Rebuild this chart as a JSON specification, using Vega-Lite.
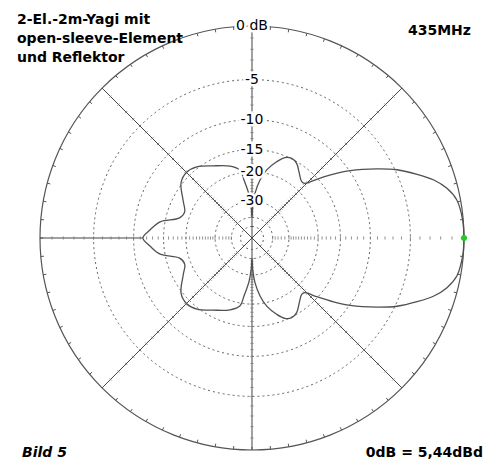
{
  "$schema": "https://vega.github.io/schema/vega-lite/v6.json",
  "width": 491,
  "height": 461,
  "autosize": {"type": "none"},
  "padding": 0,
  "background": "white",
  "config": {"view": {"stroke": null}},
  "datasets": {
    "rings": [{"db": -5}, {"db": -10}, {"db": -15}, {"db": -20}, {"db": -30}, {"db": -40}, {"db": -50}],
    "pattern": [
      {"a": 0, "db": 0}, {"a": 5, "db": -0.05}, {"a": 10.5, "db": -0.3}, {"a": 14.3, "db": -0.9}, {"a": 17.7, "db": -1.8},
      {"a": 21.1, "db": -3.1}, {"a": 25.2, "db": -4.8}, {"a": 29, "db": -6.8}, {"a": 34.5, "db": -9.9}, {"a": 38.1, "db": -12.3},
      {"a": 42.2, "db": -15.2}, {"a": 45.9, "db": -17.6}, {"a": 48.6, "db": -17.8}, {"a": 53.8, "db": -16.7}, {"a": 59.1, "db": -15.3},
      {"a": 63.5, "db": -14.9}, {"a": 67.7, "db": -15.3}, {"a": 72.1, "db": -16.7}, {"a": 77.8, "db": -19.1}, {"a": 82.1, "db": -22.1},
      {"a": 86.2, "db": -26.7}, {"a": 88.5, "db": -32}, {"a": 90, "db": -40}, {"a": 91.5, "db": -33}, {"a": 94, "db": -27},
      {"a": 97.9, "db": -22}, {"a": 100, "db": -19.3}, {"a": 107, "db": -17.8}, {"a": 118.4, "db": -16.3}, {"a": 127.8, "db": -14.7},
      {"a": 134.6, "db": -14.2}, {"a": 142, "db": -14.7}, {"a": 152, "db": -17.2}, {"a": 158.8, "db": -18.5}, {"a": 164.5, "db": -17.8},
      {"a": 170, "db": -14.1}, {"a": 175.5, "db": -12.5}, {"a": 180, "db": -11.4},
      {"a": 184.5, "db": -12.5}, {"a": 190, "db": -14.1}, {"a": 195.5, "db": -17.8}, {"a": 201.2, "db": -18.5}, {"a": 208, "db": -17.2},
      {"a": 218, "db": -14.7}, {"a": 225.4, "db": -14.2}, {"a": 232.2, "db": -14.7}, {"a": 241.6, "db": -16.3}, {"a": 253, "db": -17.8},
      {"a": 260, "db": -19.3}, {"a": 262.1, "db": -22}, {"a": 266, "db": -27}, {"a": 268.5, "db": -33}, {"a": 270, "db": -40},
      {"a": 271.5, "db": -32}, {"a": 273.8, "db": -26.7}, {"a": 277.9, "db": -22.1}, {"a": 282.2, "db": -19.1}, {"a": 287.9, "db": -16.7},
      {"a": 292.3, "db": -15.3}, {"a": 296.5, "db": -14.9}, {"a": 300.9, "db": -15.3}, {"a": 306.2, "db": -16.7}, {"a": 311.4, "db": -17.8},
      {"a": 314.1, "db": -17.6}, {"a": 317.8, "db": -15.2}, {"a": 321.9, "db": -12.3}, {"a": 325.5, "db": -9.9}, {"a": 331, "db": -6.8},
      {"a": 334.8, "db": -4.8}, {"a": 338.9, "db": -3.1}, {"a": 342.3, "db": -1.8}, {"a": 345.7, "db": -0.9}, {"a": 349.5, "db": -0.3},
      {"a": 355, "db": -0.05}, {"a": 360, "db": 0}
    ],
    "spokeTicks": [
      {"a": 0, "db": [-1,-2,-3,-4,-5,-6,-7,-8,-9,-10,-11,-12,-13,-14,-15,-16,-17,-18,-19,-20,-21,-22,-23,-24,-25,-26,-27,-28,-29,-30,-32,-34,-36,-38,-40]},
      {"a": 45, "db": [-1,-2,-3,-4,-5,-6,-7,-8,-9,-10,-11,-12,-13,-14,-15,-16,-17,-18,-19,-20,-21,-22,-23,-24,-25,-26,-27,-28,-29,-30,-32,-34,-36,-38,-40]},
      {"a": 90, "db": [-1,-2,-3,-4,-5,-6,-7,-8,-9,-10,-11,-12,-13,-14,-15,-16,-17,-18,-19,-20,-21,-22,-23,-24,-25,-26,-27,-28,-29,-30,-32,-34,-36,-38,-40]},
      {"a": 135, "db": [-1,-2,-3,-4,-5,-6,-7,-8,-9,-10,-11,-12,-13,-14,-15,-16,-17,-18,-19,-20,-21,-22,-23,-24,-25,-26,-27,-28,-29,-30,-32,-34,-36,-38,-40]},
      {"a": 180, "db": [-1,-2,-3,-4,-5,-6,-7,-8,-9,-10,-11,-12,-13,-14,-15,-16,-17,-18,-19,-20,-21,-22,-23,-24,-25,-26,-27,-28,-29,-30,-32,-34,-36,-38,-40]},
      {"a": 225, "db": [-1,-2,-3,-4,-5,-6,-7,-8,-9,-10,-11,-12,-13,-14,-15,-16,-17,-18,-19,-20,-21,-22,-23,-24,-25,-26,-27,-28,-29,-30,-32,-34,-36,-38,-40]},
      {"a": 270, "db": [-1,-2,-3,-4,-5,-6,-7,-8,-9,-10,-11,-12,-13,-14,-15,-16,-17,-18,-19,-20,-21,-22,-23,-24,-25,-26,-27,-28,-29,-30,-32,-34,-36,-38,-40]},
      {"a": 315, "db": [-1,-2,-3,-4,-5,-6,-7,-8,-9,-10,-11,-12,-13,-14,-15,-16,-17,-18,-19,-20,-21,-22,-23,-24,-25,-26,-27,-28,-29,-30,-32,-34,-36,-38,-40]}
    ],
    "outerTicks": [
      {"a": [0,5,10,15,20,25,30,35,40,45,50,55,60,65,70,75,80,85,90,95,100,105,110,115,120,125,130,135,140,145,150,155,160,165,170,175,180,185,190,195,200,205,210,215,220,225,230,235,240,245,250,255,260,265,270,275,280,285,290,295,300,305,310,315,320,325,330,335,340,345,350,355]}
    ],
    "ringLabels": [
      {"db": 0, "t": "0 dB"}, {"db": -5, "t": "-5"}, {"db": -10, "t": "-10"}, {"db": -15, "t": "-15"}, {"db": -20, "t": "-20"}, {"db": -30, "t": "-30"}
    ],
    "notes": [
      {"t": "2-El.-2m-Yagi mit", "corner": "tl1"},
      {"t": "open-sleeve-Element", "corner": "tl2"},
      {"t": "und Reflektor", "corner": "tl3"},
      {"t": "435MHz", "corner": "tr"},
      {"t": "Bild 5", "corner": "bl"},
      {"t": "0dB = 5,44dBd", "corner": "br"}
    ]
  },
  "encoding": {
    "x": {"field": "px", "type": "quantitative", "scale": {"domain": [-1.18868, 1.12736], "nice": false, "zero": false}, "axis": null},
    "y": {"field": "py", "type": "quantitative", "scale": {"domain": [-1.05189, 1.12264], "nice": false, "zero": false}, "axis": null}
  },
  "layer": [
    {
      "data": {"name": "rings"},
      "transform": [
        {"calculate": "pow(0.89, -datum.db / 2)", "as": "r"},
        {"calculate": "0", "as": "px"},
        {"calculate": "0", "as": "py"}
      ],
      "mark": {"type": "arc", "theta": 0, "theta2": 6.2832, "filled": false, "fill": null, "stroke": "#606060", "strokeWidth": 1, "strokeDash": [2, 3]},
      "encoding": {
        "radius": {"field": "r", "type": "quantitative", "stack": null, "scale": {"type": "linear", "domain": [0, 1], "range": [0, 212], "zero": true}, "legend": null}
      }
    },
    {
      "data": {"values": [{"db": 0}]},
      "transform": [
        {"calculate": "pow(0.89, -datum.db / 2)", "as": "r"},
        {"calculate": "0", "as": "px"},
        {"calculate": "0", "as": "py"}
      ],
      "mark": {"type": "arc", "theta": 0, "theta2": 6.2832, "filled": false, "fill": null, "stroke": "#555555", "strokeWidth": 1.2},
      "encoding": {
        "radius": {"field": "r", "type": "quantitative", "stack": null, "scale": {"type": "linear", "domain": [0, 1], "range": [0, 212], "zero": true}, "legend": null}
      }
    },
    {
      "data": {"values": [{"a": 45}, {"a": 90}, {"a": 135}]},
      "transform": [
        {"calculate": "cos(datum.a * PI / 180)", "as": "px"},
        {"calculate": "sin(datum.a * PI / 180)", "as": "py"},
        {"calculate": "-datum.px", "as": "px2"},
        {"calculate": "-datum.py", "as": "py2"}
      ],
      "mark": {"type": "rule", "stroke": "#444444", "strokeWidth": 1},
      "encoding": {"x2": {"field": "px2"}, "y2": {"field": "py2"}}
    },
    {
      "data": {"values": [{"a": 180, "dbFrom": 0, "dbTo": -11.4}]},
      "transform": [
        {"calculate": "pow(0.89, -datum.dbFrom / 2) * cos(datum.a * PI / 180)", "as": "px"},
        {"calculate": "0", "as": "py"},
        {"calculate": "pow(0.89, -datum.dbTo / 2) * cos(datum.a * PI / 180)", "as": "px2"},
        {"calculate": "0", "as": "py2"}
      ],
      "mark": {"type": "rule", "stroke": "#444444", "strokeWidth": 1},
      "encoding": {"x2": {"field": "px2"}, "y2": {"field": "py2"}}
    },
    {
      "data": {"name": "spokeTicks"},
      "transform": [
        {"flatten": ["db"]},
        {"calculate": "pow(0.89, -datum.db / 2)", "as": "r"},
        {"calculate": "datum.r * cos(datum.a * PI / 180) - 0.0075 * sin(datum.a * PI / 180)", "as": "px"},
        {"calculate": "datum.r * sin(datum.a * PI / 180) + 0.0075 * cos(datum.a * PI / 180)", "as": "py"},
        {"calculate": "datum.r * cos(datum.a * PI / 180) + 0.0075 * sin(datum.a * PI / 180)", "as": "px2"},
        {"calculate": "datum.r * sin(datum.a * PI / 180) - 0.0075 * cos(datum.a * PI / 180)", "as": "py2"}
      ],
      "mark": {"type": "rule", "stroke": "#777777", "strokeWidth": 0.8},
      "encoding": {"x2": {"field": "px2"}, "y2": {"field": "py2"}}
    },
    {
      "data": {"name": "outerTicks"},
      "transform": [
        {"flatten": ["a"]},
        {"calculate": "cos(datum.a * PI / 180)", "as": "px"},
        {"calculate": "sin(datum.a * PI / 180)", "as": "py"},
        {"calculate": "0.985 * cos(datum.a * PI / 180)", "as": "px2"},
        {"calculate": "0.985 * sin(datum.a * PI / 180)", "as": "py2"}
      ],
      "mark": {"type": "rule", "stroke": "#555555", "strokeWidth": 1},
      "encoding": {"x2": {"field": "px2"}, "y2": {"field": "py2"}}
    },
    {
      "data": {"name": "pattern"},
      "transform": [
        {"calculate": "pow(0.89, -datum.db / 2)", "as": "r"},
        {"calculate": "datum.r * cos(datum.a * PI / 180)", "as": "px"},
        {"calculate": "datum.r * sin(datum.a * PI / 180)", "as": "py"}
      ],
      "mark": {"type": "line", "interpolate": "catmull-rom", "stroke": "#505050", "strokeWidth": 1.3},
      "encoding": {"order": {"field": "a", "type": "quantitative"}}
    },
    {
      "data": {"values": [{"a": 0, "db": 0}]},
      "transform": [
        {"calculate": "pow(0.89, -datum.db / 2) * cos(datum.a * PI / 180)", "as": "px"},
        {"calculate": "pow(0.89, -datum.db / 2) * sin(datum.a * PI / 180)", "as": "py"}
      ],
      "mark": {"type": "point", "filled": true, "color": "#22cc22", "size": 36, "opacity": 1}
    },
    {
      "data": {"name": "ringLabels"},
      "transform": [
        {"calculate": "0", "as": "px"},
        {"calculate": "pow(0.89, -datum.db / 2)", "as": "py"}
      ],
      "mark": {"type": "text", "font": "DejaVu Sans", "fontSize": 14, "align": "center", "baseline": "middle", "stroke": "white", "strokeWidth": 5, "fill": "white"},
      "encoding": {"text": {"field": "t"}}
    },
    {
      "data": {"name": "ringLabels"},
      "transform": [
        {"calculate": "0", "as": "px"},
        {"calculate": "pow(0.89, -datum.db / 2)", "as": "py"}
      ],
      "mark": {"type": "text", "font": "DejaVu Sans", "fontSize": 14, "align": "center", "baseline": "middle", "fill": "#000000"},
      "encoding": {"text": {"field": "t"}}
    },
    {
      "data": {"name": "notes"},
      "transform": [
        {"filter": "indexof(['tl1','tl2','tl3'], datum.corner) >= 0"},
        {"calculate": "-1.1085", "as": "px"},
        {"calculate": "datum.corner == 'tl1' ? 1.0094 : datum.corner == 'tl2' ? 0.9198 : 0.8325", "as": "py"}
      ],
      "mark": {"type": "text", "font": "DejaVu Sans", "fontSize": 14, "fontWeight": "bold", "align": "left", "baseline": "alphabetic", "fill": "#000000"},
      "encoding": {"text": {"field": "t"}}
    },
    {
      "data": {"name": "notes"},
      "transform": [
        {"filter": "datum.corner == 'bl'"},
        {"calculate": "-1.085", "as": "px"},
        {"calculate": "-1.0307", "as": "py"}
      ],
      "mark": {"type": "text", "font": "DejaVu Sans", "fontSize": 14, "fontWeight": "bold", "fontStyle": "italic", "align": "left", "baseline": "alphabetic", "fill": "#000000"},
      "encoding": {"text": {"field": "t"}}
    },
    {
      "data": {"name": "notes"},
      "transform": [
        {"filter": "indexof(['tr','br'], datum.corner) >= 0"},
        {"calculate": "datum.corner == 'tr' ? 1.033 : 1.0896", "as": "px"},
        {"calculate": "datum.corner == 'tr' ? 0.9575 : -1.0307", "as": "py"}
      ],
      "mark": {"type": "text", "font": "DejaVu Sans", "fontSize": 14, "fontWeight": "bold", "align": "right", "baseline": "alphabetic", "fill": "#000000"},
      "encoding": {"text": {"field": "t"}}
    }
  ]
}
